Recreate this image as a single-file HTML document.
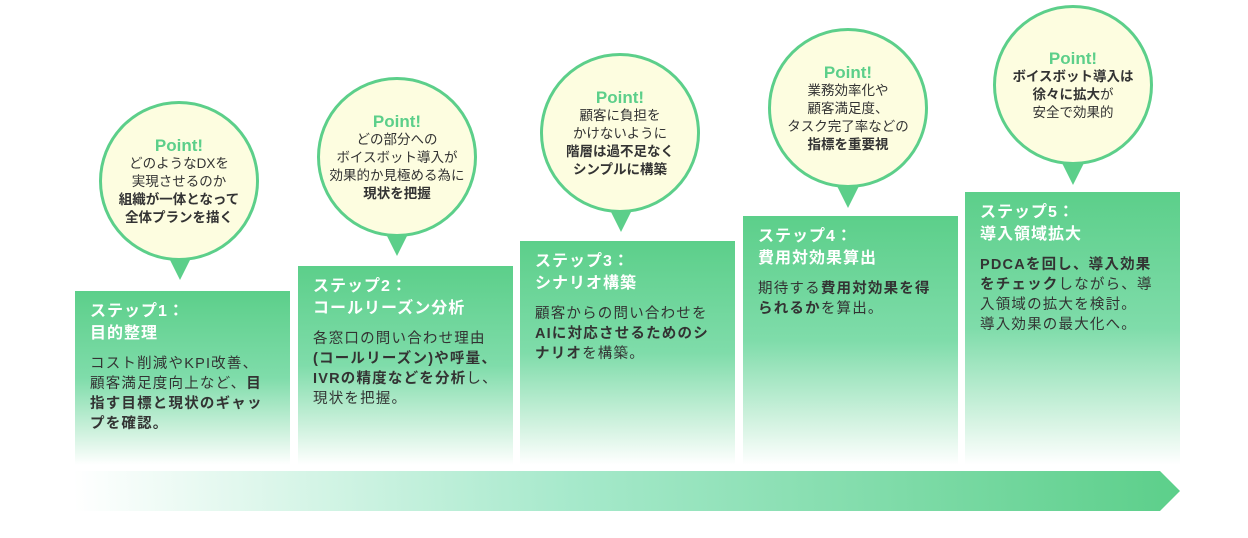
<!DOCTYPE html>
<html><head><meta charset="utf-8"><style>
body{margin:0;width:1248px;height:538px;background:#fff;position:relative;overflow:hidden;font-family:"Liberation Sans","Noto Sans CJK JP",sans-serif;}
.box{position:absolute;width:215px;bottom:73px;background:linear-gradient(to bottom,#5ccf8a 0%,#7fdcaa 50%,#d8f4e4 85%,#fff 100%);box-sizing:border-box;padding:10px 10px 0 15px;}
.t{color:#fff;font-weight:bold;font-size:16px;line-height:22px;margin-bottom:9px;letter-spacing:1px}
.d{color:#333;font-size:14.5px;line-height:20px;letter-spacing:1.2px;white-space:nowrap}
b{font-weight:bold}
.c{position:absolute;width:160px;height:160px;border-radius:50%;background:#fdfde0;border:3px solid #5ccf8a;box-sizing:border-box;display:flex;justify-content:center;align-items:center;text-align:center;color:#333;font-size:13.5px;line-height:18px}
.c .p{color:#5ccf8a;font-weight:bold;font-size:17px;line-height:19px}
.tri{position:absolute;width:0;height:0;border-left:11px solid transparent;border-right:11px solid transparent;border-top:22px solid #5ccf8a}
</style></head><body>
<div class="box" style="left:75px;top:291px"><div class="t">ステップ1：<br>目的整理</div><div class="d">コスト削減やKPI改善、<br>顧客満足度向上など、<b>目</b><br><b>指す目標と現状のギャッ</b><br><b>プを確認。</b></div></div>
<div class="box" style="left:298px;top:266px"><div class="t">ステップ2：<br>コールリーズン分析</div><div class="d">各窓口の問い合わせ理由<br><b>(コールリーズン)や呼量、</b><br><b>IVRの精度などを分析</b>し、<br>現状を把握。</div></div>
<div class="box" style="left:520px;top:241px"><div class="t">ステップ3：<br>シナリオ構築</div><div class="d">顧客からの問い合わせを<br><b>AIに対応させるためのシ</b><br><b>ナリオ</b>を構築。</div></div>
<div class="box" style="left:743px;top:216px"><div class="t">ステップ4：<br>費用対効果算出</div><div class="d">期待する<b>費用対効果を得</b><br><b>られるか</b>を算出。</div></div>
<div class="box" style="left:965px;top:192px"><div class="t">ステップ5：<br>導入領域拡大</div><div class="d"><b>PDCAを回し、導入効果</b><br><b>をチェック</b>しながら、導<br>入領域の拡大を検討。<br>導入効果の最大化へ。</div></div>

<div class="tri" style="left:169px;top:258px"></div>
<div class="c" style="left:99px;top:101px"><div><div class="p">Point!</div>どのようなDXを<br>実現させるのか<br><b>組織が一体となって<br>全体プランを描く</b></div></div>
<div class="tri" style="left:386px;top:234px"></div>
<div class="c" style="left:317px;top:77px"><div><div class="p">Point!</div>どの部分への<br>ボイスボット導入が<br>効果的か見極める為に<br><b>現状を把握</b></div></div>
<div class="tri" style="left:610px;top:210px"></div>
<div class="c" style="left:540px;top:53px"><div><div class="p">Point!</div>顧客に負担を<br>かけないように<br><b>階層は過不足なく<br>シンプルに構築</b></div></div>
<div class="tri" style="left:837px;top:186px"></div>
<div class="c" style="left:768px;top:28px"><div><div class="p">Point!</div>業務効率化や<br>顧客満足度、<br>タスク完了率などの<br><b>指標を重要視</b></div></div>
<div class="tri" style="left:1062px;top:163px"></div>
<div class="c" style="left:993px;top:5px"><div><div class="p">Point!</div><b>ボイスボット導入は<br>徐々に拡大</b>が<br>安全で効果的</div></div>

<svg style="position:absolute;left:0;top:0" width="1248" height="538">
<defs><linearGradient id="g" x1="75" y1="520" x2="1180" y2="460" gradientUnits="userSpaceOnUse"><stop offset="0" stop-color="#fff"/><stop offset="0.45" stop-color="#a6e9cb"/><stop offset="1" stop-color="#5ccf8a"/></linearGradient></defs>
<polygon points="75,471 1160,471 1180,491 1160,511 75,511" fill="url(#g)"/>
</svg>
</body></html>
